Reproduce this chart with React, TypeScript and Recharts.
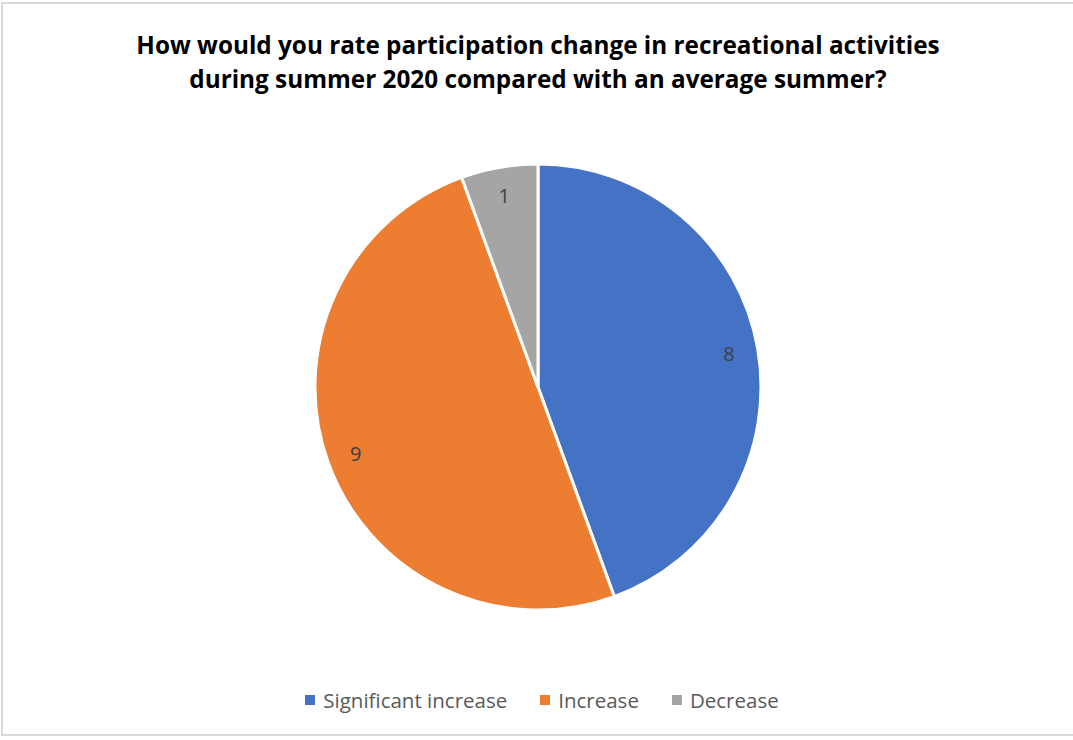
import { PieChart, Pie, Cell } from 'recharts';

const categories = ['Significant increase', 'Increase', 'Decrease'];
const counts = [8, 9, 1];
const colors = ['#4472C4', '#ED7D31', '#A5A5A5'];
const titleLines = [
  'How would you rate participation change in recreational activities',
  'during summer 2020 compared with an average summer?',
];

const data = categories.map((name, i) => ({ name, value: counts[i] }));

const RAD = Math.PI / 180;

function renderLabel(props: any) {
  const { cx, cy, midAngle, outerRadius, value } = props;
  const r = outerRadius * 0.87;
  const x = cx + r * Math.cos(-midAngle * RAD);
  const y = cy + r * Math.sin(-midAngle * RAD);
  return (
    <text x={x} y={y} fill="#404040" fontSize={20} fontFamily="'Open Sans', sans-serif" textAnchor="middle" dominantBaseline="central">
      {value}
    </text>
  );
}

export default function App() {
  return (
    <div style={{ position: 'absolute', left: 0, top: 0, width: 1073, height: 740, background: '#fff' }}>
      <div style={{ position: 'absolute', left: 1, top: 2, width: 1080, height: 734, border: '2px solid #d9d9d9', boxSizing: 'border-box' }} />
      <div style={{ position: 'absolute', left: 0, top: 28, width: 1076, textAlign: 'center', fontFamily: "'Open Sans', sans-serif", fontWeight: 700, fontSize: 24.3, lineHeight: '34px', color: '#000', whiteSpace: 'nowrap' }}>
        {titleLines.map((l, i) => (
          <div key={i}>{l}</div>
        ))}
      </div>
      <div style={{ position: 'absolute', left: 0, top: 0 }}>
        <PieChart width={1073} height={740} margin={{ top: 0, right: 0, bottom: 0, left: 0 }}>
          <Pie
            data={data}
            dataKey="value"
            nameKey="name"
            cx={538}
            cy={387}
            outerRadius={223}
            startAngle={90}
            endAngle={-270}
            stroke="#fff"
            strokeWidth={3}
            label={renderLabel}
            labelLine={false}
            isAnimationActive={false}
          >
            {data.map((d, i) => (
              <Cell key={d.name} fill={colors[i]} />
            ))}
          </Pie>
        </PieChart>
      </div>
      <div style={{ position: 'absolute', left: 0, top: 686, width: 1084, display: 'flex', justifyContent: 'center', alignItems: 'center', fontFamily: "'Open Sans', sans-serif", fontSize: 20.5, color: '#595959' }}>
        {categories.map((c, i) => (
          <div key={c} style={{ display: 'flex', alignItems: 'center', marginRight: i < categories.length - 1 ? 33 : 0 }}>
            <span style={{ display: 'inline-block', width: 10, height: 10, background: colors[i], marginRight: 8 }} />
            <span>{c}</span>
          </div>
        ))}
      </div>
    </div>
  );
}
